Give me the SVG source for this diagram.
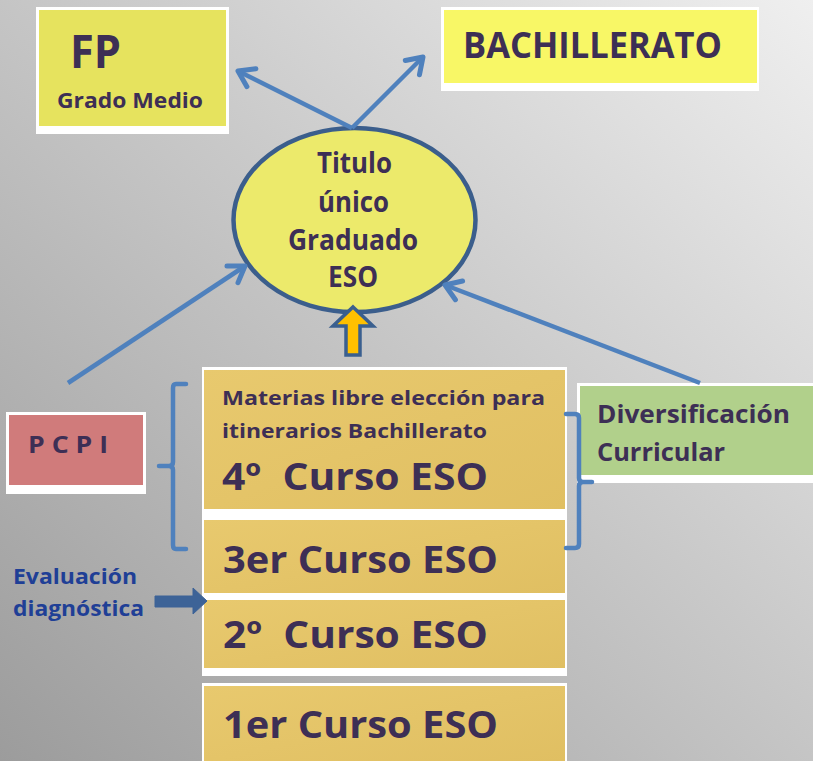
<svg xmlns="http://www.w3.org/2000/svg" width="813" height="761" viewBox="0 0 813 761">
<defs>
<linearGradient id="bg" x1="0" y1="1" x2="1" y2="0">
<stop offset="0" stop-color="#9c9c9c"/>
<stop offset="0.55" stop-color="#c9c9c9"/>
<stop offset="1" stop-color="#efefef"/>
</linearGradient>
<linearGradient id="gold" x1="0" y1="0" x2="1" y2="1">
<stop offset="0" stop-color="#e8c96e"/>
<stop offset="1" stop-color="#e0bf62"/>
</linearGradient>
<marker id="open" markerUnits="userSpaceOnUse" markerWidth="40" markerHeight="40" viewBox="-20 -20 40 40" refX="0" refY="0" orient="auto">
<path d="M-15,-10 L0,0 L-15,10" fill="none" stroke="#4f81bd" stroke-width="5" stroke-linecap="round" stroke-linejoin="round"/>
</marker>
</defs>
<style>
text{font-family:"Open Sans",Lato,"Liberation Sans",sans-serif;font-weight:bold;fill:#3d2f55}
.conn{stroke:#4f81bd;stroke-width:4.5;fill:none}
.brace{stroke:#4f81bd;stroke-width:4.5;fill:none;stroke-linecap:round;stroke-linejoin:round}
.wb{fill:#ffffff}
.gold{fill:url(#gold)}
</style>
<rect width="813" height="761" fill="url(#bg)"/>

<g id="fp">
<rect class="wb" x="36" y="7" width="193" height="127"/>
<rect x="39" y="10" width="187" height="116" fill="#e6e35e"/>
<text x="70" y="68" font-size="46" textLength="51" lengthAdjust="spacingAndGlyphs">FP</text>
<text x="57" y="108" font-size="21" textLength="146" lengthAdjust="spacingAndGlyphs">Grado Medio</text>
</g>

<g id="bachillerato">
<rect class="wb" x="441" y="7" width="318" height="84"/>
<rect x="444" y="10" width="313" height="73" fill="#f8f766"/>
<text x="463" y="58" font-size="35" textLength="259" lengthAdjust="spacingAndGlyphs">BACHILLERATO</text>
</g>

<g id="titulo">
<ellipse cx="354.5" cy="220" rx="121" ry="92" fill="#ecea6b" stroke="#3b5e8c" stroke-width="4.5"/>
<text x="317" y="173" font-size="28" textLength="75" lengthAdjust="spacingAndGlyphs">Titulo</text>
<text x="318" y="212" font-size="28" textLength="71" lengthAdjust="spacingAndGlyphs">único</text>
<text x="288" y="250" font-size="28" textLength="130" lengthAdjust="spacingAndGlyphs">Graduado</text>
<text x="328" y="287" font-size="28" textLength="50" lengthAdjust="spacingAndGlyphs">ESO</text>
</g>

<g id="pcpi">
<rect class="wb" x="6" y="412" width="140" height="82"/>
<rect x="9" y="415" width="134" height="70" fill="#d07b7b"/>
<text x="28" y="453" font-size="23" textLength="80" lengthAdjust="spacingAndGlyphs">P C P I</text>
</g>

<g id="curso4">
<rect class="wb" x="202" y="367" width="365" height="150"/>
<rect class="gold" x="204" y="370" width="361" height="139"/>
<text x="222" y="405" font-size="20" textLength="323" lengthAdjust="spacingAndGlyphs">Materias libre elección para</text>
<text x="222" y="438" font-size="20" textLength="265" lengthAdjust="spacingAndGlyphs">itinerarios Bachillerato</text>
<text x="222" y="490" font-size="38" textLength="266" lengthAdjust="spacingAndGlyphs" xml:space="preserve">4º  Curso ESO</text>
</g>

<g id="curso3">
<rect class="wb" x="202" y="517" width="365" height="83"/>
<rect class="gold" x="204" y="520" width="361" height="73"/>
<text x="223" y="573" font-size="38" textLength="275" lengthAdjust="spacingAndGlyphs">3er Curso ESO</text>
</g>

<g id="curso2">
<rect class="wb" x="202" y="600" width="365" height="76"/>
<rect class="gold" x="204" y="600" width="361" height="68"/>
<text x="223" y="648" font-size="38" textLength="265" lengthAdjust="spacingAndGlyphs" xml:space="preserve">2º  Curso ESO</text>
</g>

<g id="curso1">
<rect class="wb" x="202" y="683" width="365" height="78"/>
<rect class="gold" x="204" y="686" width="361" height="75"/>
<text x="223" y="738" font-size="38" textLength="275" lengthAdjust="spacingAndGlyphs">1er Curso ESO</text>
</g>

<g id="diversificacion">
<rect class="wb" x="577" y="383" width="236" height="100"/>
<rect x="580" y="386" width="233" height="89" fill="#b1d08b"/>
<text x="597" y="423" font-size="25" textLength="193" lengthAdjust="spacingAndGlyphs">Diversificación</text>
<text x="597" y="461" font-size="25" textLength="128" lengthAdjust="spacingAndGlyphs">Curricular</text>
</g>

<g id="evaluacion">
<text x="13" y="584" font-size="21" style="fill:#1f3f96" textLength="124" lengthAdjust="spacingAndGlyphs">Evaluación</text>
<text x="13" y="616" font-size="21" style="fill:#1f3f96" textLength="131" lengthAdjust="spacingAndGlyphs">diagnóstica</text>
</g>

<g id="connectors">
<line class="conn" x1="352" y1="128" x2="238" y2="71" marker-end="url(#open)"/>
<line class="conn" x1="352" y1="128" x2="423" y2="57" marker-end="url(#open)"/>
<line class="conn" x1="68" y1="383" x2="245" y2="266" marker-end="url(#open)"/>
<line class="conn" x1="700" y1="383" x2="445" y2="285" marker-end="url(#open)"/>
<path class="brace" d="M186,384 L176,384 Q173,384 173,388 L173,462 Q173,466 169,466 L159,466 L169,466 Q173,466 173,470 L173,545 Q173,549 176,549 L186,549"/>
<path class="brace" d="M566,414 L575,414 Q579,414 579,418 L579,478 Q579,482 583,482 L592,482 L583,482 Q579,482 579,486 L579,544 Q579,548 575,548 L566,548"/>
<path d="M155,596 L193,596 L193,588 L207,601 L193,614 L193,607 L155,607 Z" fill="#3d6397" stroke="#3d6397" stroke-width="1"/>
<path d="M353,307 L373,326 L360,326 L360,355 L346,355 L346,326 L333,326 Z" fill="#ffc000" stroke="#3a5f8f" stroke-width="3.5" stroke-linejoin="miter"/>
</g>
</svg>
